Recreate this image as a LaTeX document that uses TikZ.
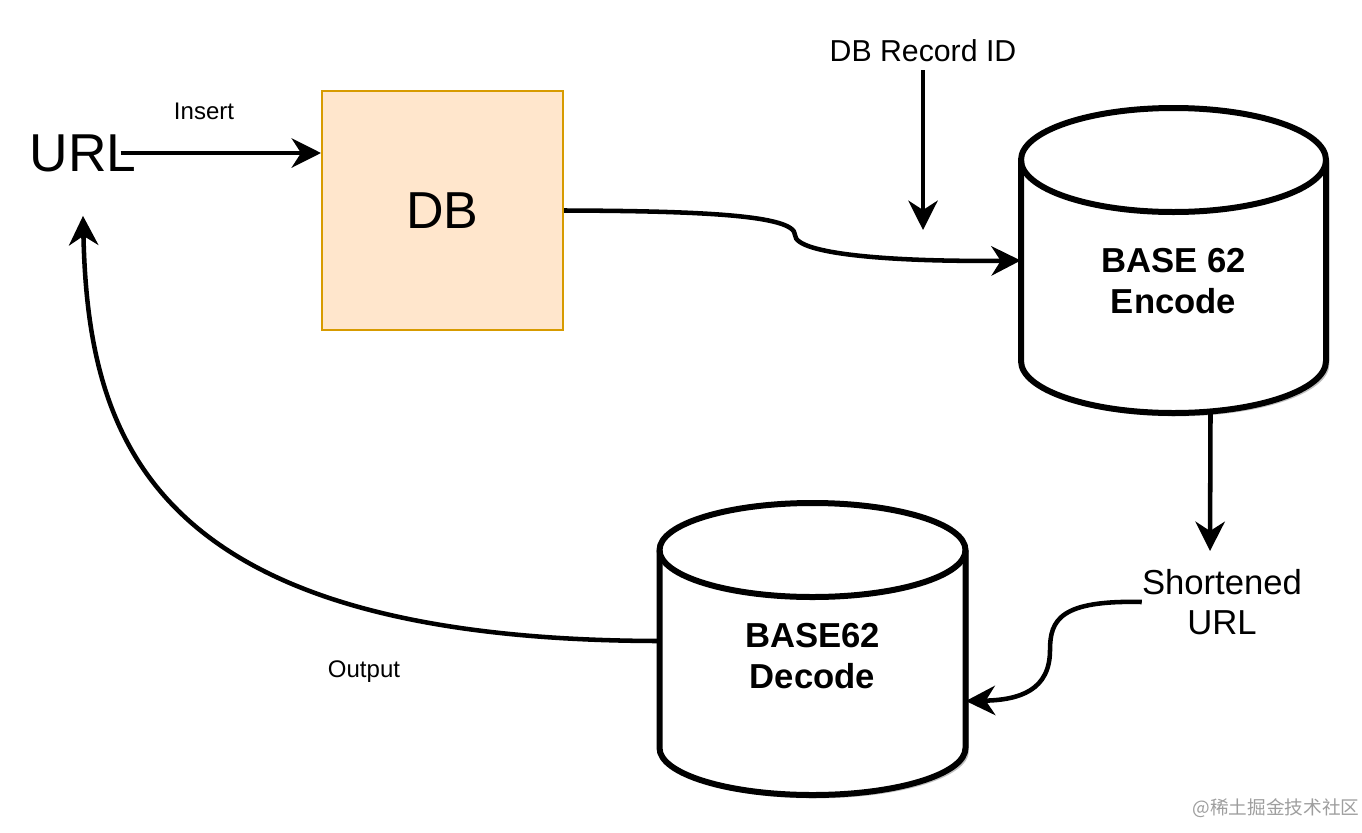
\documentclass[tikz,border=0pt]{standalone}
\usepackage{fontspec}
\setmainfont{Liberation Sans}
\newfontfamily\cjkfont{Noto Sans CJK SC}
\usetikzlibrary{arrows.meta, calc, positioning, shadows}

\definecolor{dbfill}{HTML}{FFE6CC}
\definecolor{dbline}{HTML}{D79B00}

\begin{document}
\begin{tikzpicture}[x=0.75pt, y=-0.75pt, >={Stealth[length=22pt,width=22pt,inset=7pt]},
  flow/.style={line width=3.4pt, ->},
  plain/.style={inner sep=0pt, align=center},
  store/.style={inner sep=0pt},
  cyl/.style={draw, line width=4.5pt, line join=round},
  storetext/.style={plain, font=\fontsize{26}{31}\selectfont\bfseries}]
  \useasboundingbox (0,0) rectangle (1362,832);

  % nodes
  \node[plain, font=\fontsize{40}{40}\selectfont] (url) at (83,153) {URL};
  \node[draw=dbline, fill=dbfill, line width=1.5pt, minimum width=180.75pt, minimum height=179.25pt,
    font=\fontsize{39}{39}\selectfont] (db) at (442.5,210.5) {DB};
  \node[plain, font=\fontsize{22.7}{26}\selectfont] (recid) at (923,51) {DB Record ID};
  \node[store, minimum width=228.75pt, minimum height=228.75pt] (enc) at (1173.5,260.5) {};
  \node[store, minimum width=229.5pt, minimum height=219pt] (dec) at (812.5,649) {};
  \node[plain, font=\fontsize{26}{30}\selectfont] (short) at (1222,602) {Shortened\\URL};
  \node[plain, font=\fontsize{18}{18}\selectfont] (ins) at (204,111) {Insert};
  \node[plain, font=\fontsize{18}{18}\selectfont] (out) at (364,672) {Output};
  \node[plain, font=\cjkfont\fontsize{14}{14}\selectfont, text=black!38] (mark) at (1276,808) {@稀土掘金技术社区};
  \coordinate (recidend) at (923,230);

  % cylinders
  \foreach \n/\w/\h/\r in {enc/152.5/152.5/52, dec/153/146/47} {
    \begin{scope}[shift={(\n.center)}, x=0.75pt, y=0.75pt]
      \draw[cyl, fill=white, drop shadow={shadow xshift=2.5pt, shadow yshift=-2.5pt, fill=black, opacity=0.25}]
        (-\w,\h-\r) -- (-\w,-\h+\r) arc[start angle=180, end angle=360, x radius=\w, y radius=\r]
        -- (\w,\h-\r) arc[start angle=0, end angle=180, x radius=\w, y radius=\r] -- cycle;
      \draw[cyl] (-\w,\h-\r) arc[start angle=180, end angle=360, x radius=\w, y radius=\r];
    \end{scope}
  }
  \node[storetext] (enctext) at (1173.5,281) {BASE 62\\Encode};
  \node[storetext] (dectext) at (812.5,656) {BASE62\\Decode};

  % connectors
  \draw[flow] ([xshift=-12pt]url.east) -- (url.east -| db.west);
  \draw[flow] ([yshift=-6pt]recid.south) -- (recidend);
  \draw[flow] (db.east) .. controls (700,211) and (795,215) .. (795,235)
    .. controls (795,255) and (900,262) .. (enc.west);
  \draw[flow] ($(enc.south)+(37,0)$) -- ($(short.north)+(-12,-18)$);
  \draw[flow] (short.west) .. controls (1060,600) and (1050,620) .. (1050,650)
    .. controls (1050,690) and (1020,700) .. ([yshift=-39pt]dec.east);
  \draw[flow] ([yshift=6pt]dec.west) .. controls (150,640) and (88,440) .. ([yshift=-33pt]url.south);
\end{tikzpicture}
\end{document}
